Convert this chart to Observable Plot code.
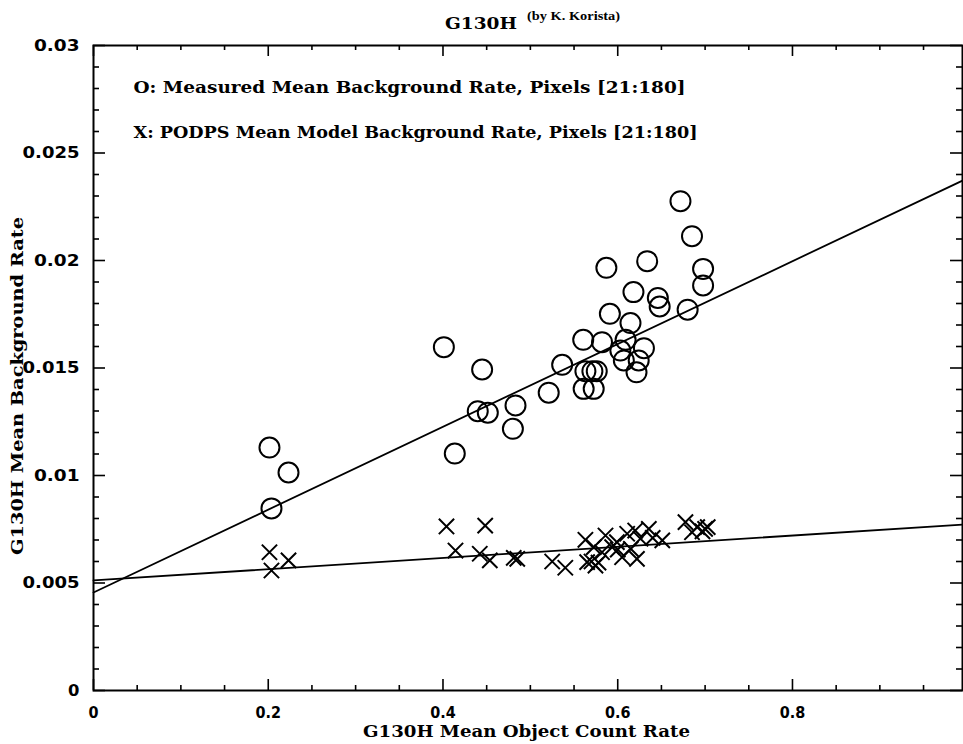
<!DOCTYPE html>
<html>
<head>
<meta charset="utf-8">
<script src="https://cdn.jsdelivr.net/npm/d3@7"></script>
<script src="https://cdn.jsdelivr.net/npm/@observablehq/plot@0.6"></script>
<style>
  html, body { margin: 0; padding: 0; background: #fff; }
  svg { display: block; }
</style>
</head>
<body>
<div id="chart"></div>
<script>
// ---- data ----
const measuredX = [0.2014, 0.2232, 0.2037, 0.401, 0.4135, 0.4398, 0.4513, 0.4448, 0.480, 0.483,
  0.521, 0.5364, 0.5605, 0.561, 0.5725, 0.563, 0.571, 0.576, 0.582, 0.587,
  0.591, 0.603, 0.607, 0.609, 0.6146, 0.618, 0.6215, 0.624, 0.630, 0.6337,
  0.6459, 0.648, 0.6718, 0.680, 0.685, 0.6977, 0.6977];
const measuredY = [0.0113, 0.01014, 0.00847, 0.01597, 0.01102, 0.01299, 0.01292, 0.01493, 0.01217, 0.01326,
  0.01385, 0.01515, 0.01631, 0.01403, 0.01403, 0.01485, 0.01485, 0.01485, 0.0162, 0.01966,
  0.01752, 0.01581, 0.01535, 0.01631, 0.01709, 0.01853, 0.0148, 0.01535, 0.01592, 0.01997,
  0.01826, 0.01786, 0.02276, 0.01771, 0.02113, 0.01961, 0.01884];

const modelX = [0.2014, 0.2232, 0.2037, 0.404, 0.4483, 0.4143, 0.4421, 0.4536, 0.481, 0.485,
  0.525, 0.540, 0.563, 0.565, 0.5745, 0.5726, 0.586, 0.582, 0.5936, 0.6108,
  0.620, 0.6356, 0.626, 0.605, 0.622, 0.615, 0.651, 0.6775, 0.691, 0.700,
  0.685, 0.599, 0.570, 0.578, 0.600, 0.640, 0.697, 0.703];
const modelY = [0.00643, 0.00605, 0.00558, 0.00763, 0.00767, 0.00651, 0.00636, 0.00605, 0.00617, 0.00612,
  0.0060, 0.00571, 0.00701, 0.00597, 0.00581, 0.00667, 0.00721, 0.00643, 0.00667, 0.00729,
  0.00744, 0.00752, 0.00706, 0.0062, 0.00612, 0.00659, 0.00698, 0.00783, 0.0076, 0.00752,
  0.00736, 0.0069, 0.0060, 0.00595, 0.00655, 0.0071, 0.0074, 0.0076];

// fitted lines (intercept, slope)
const fitMeasured = {intercept: 0.00456, slope: 0.01926};
const fitModel = {intercept: 0.00512, slope: 0.00261};

const xDomain = [0, 0.9946];
const yDomain = [0, 0.03];
const xMajor = [0, 0.2, 0.4, 0.6, 0.8];
const xMinor = [0.05, 0.1, 0.15, 0.25, 0.3, 0.35, 0.45, 0.5, 0.55, 0.65, 0.7, 0.75, 0.85, 0.9, 0.95];
const yMajor = [0, 0.005, 0.01, 0.015, 0.02, 0.025, 0.03];
const yMinor = [0.001,0.002,0.003,0.004,0.006,0.007,0.008,0.009,0.011,0.012,0.013,0.014,
  0.016,0.017,0.018,0.019,0.021,0.022,0.023,0.024,0.026,0.027,0.028,0.029];
const yTickLabels = ["0", "0.005", "0.01", "0.015", "0.02", "0.025", "0.03"];
const xTickLabels = ["0", "0.2", "0.4", "0.6", "0.8"];

const legendLines = [
  "O: Measured Mean Background Rate, Pixels [21:180]",
  "X: PODPS Mean Model Background Rate, Pixels [21:180]"
];

// ---- build tables ----
const measured = measuredX.map((x, i) => ({x, y: measuredY[i]}));
const model = modelX.map((x, i) => ({x, y: modelY[i]}));
const fitRows = [];
for (const [name, f] of [["measured", fitMeasured], ["model", fitModel]]) {
  for (const x of xDomain) fitRows.push({series: name, x, y: f.intercept + f.slope * x});
}

// layout
const W = 963, H = 744, mL = 93, mR = 1, mT = 45, mB = 54;
const fw = W - mL - mR, fh = H - mT - mB;
const serif = "'DejaVu Serif Condensed', 'DejaVu Serif', 'Liberation Serif', serif";

// inward tick marks drawn as short ticks hugging each side of the frame
const ticksBottom = (vals, len) => Plot.tickX(vals, {x: d => d, insetTop: fh - len, stroke: "#000", strokeWidth: 1.6});
const ticksTop = (vals, len) => Plot.tickX(vals, {x: d => d, insetBottom: fh - len, stroke: "#000", strokeWidth: 1.6});
const ticksLeft = (vals, len) => Plot.tickY(vals, {y: d => d, insetRight: fw - len, stroke: "#000", strokeWidth: 1.6});
const ticksRight = (vals, len) => Plot.tickY(vals, {y: d => d, insetLeft: fw - len, stroke: "#000", strokeWidth: 1.6});

const chart = Plot.plot({
  width: W,
  height: H,
  marginLeft: mL,
  marginRight: mR,
  marginTop: mT,
  marginBottom: mB,
  x: {domain: xDomain},
  y: {domain: yDomain},
  style: {background: "#fff", color: "#000"},
  marks: [
    ticksBottom(xMinor, 5), ticksBottom(xMajor, 11),
    ticksTop(xMinor, 5), ticksTop(xMajor, 11),
    ticksLeft(yMinor, 6), ticksLeft(yMajor, 12),
    ticksRight(yMinor, 6), ticksRight(yMajor, 12),
    Plot.frame({stroke: "#000", strokeWidth: 2}),
    Plot.axisX({anchor: "bottom", ticks: xMajor, tickSize: 0, tickPadding: 16,
      tickFormat: d => xTickLabels[xMajor.indexOf(d)], label: null,
      fontSize: 16, fontWeight: "bold", fontFamily: "'Liberation Sans Narrow', 'DejaVu Sans Condensed', sans-serif"}),
    Plot.axisY({anchor: "left", ticks: yMajor, tickSize: 0, tickPadding: 14,
      tickFormat: d => yTickLabels[yMajor.indexOf(d)], label: null,
      fontSize: 16, fontWeight: "bold", fontFamily: "'DejaVu Sans', sans-serif", className: "ylab"}),
    Plot.line(fitRows, {x: "x", y: "y", z: "series", stroke: "#000", strokeWidth: 1.8}),
    Plot.dot(measured, {x: "x", y: "y", r: 10, stroke: "#000", strokeWidth: 2, fill: "none"}),
    Plot.dot(model, {x: "x", y: "y", r: 7, symbol: "times", stroke: "#000", strokeWidth: 2}),
    Plot.text(legendLines, {text: d => d, frameAnchor: "top-left", textAnchor: "start",
      fontSize: 17, fontWeight: "bold", fontFamily: serif, className: "legend"})
  ]
});

const svg = d3.select(chart);
// legend lines: place each line and stretch to the reference widths
const legendWidths = [552, 564];
svg.selectAll("g.legend text").each(function(d, i) {
  d3.select(this)
    .attr("transform", `translate(133,${92 + i * 45})`)
    .attr("x", 0).attr("y", 0).attr("dy", null)
    .attr("text-anchor", "start")
    .attr("textLength", legendWidths[i]).attr("lengthAdjust", "spacingAndGlyphs");
});
// y tick labels are wide in the reference
svg.selectAll("g.ylab text").each(function() {
  const n = this.textContent.length;
  d3.select(this).attr("textLength", n * 11.4).attr("lengthAdjust", "spacingAndGlyphs");
});

// titles
function addText(str, x, y, size, len, family, transform) {
  const t = svg.append("text").text(str)
    .attr("text-anchor", "start")
    .attr("font-family", family).attr("font-weight", "bold")
    .attr("font-size", size).attr("textLength", len).attr("lengthAdjust", "spacingAndGlyphs");
  if (transform) t.attr("transform", transform); else t.attr("x", x).attr("y", y);
  return t;
}
addText("G130H", 445, 29, 17, 72, serif);
addText("(by K. Korista)", 527, 20, 12, 93, "'Liberation Serif', serif");
addText("G130H Mean Object Count Rate", 363, 737, 17, 327, serif);
addText("G130H Mean Background Rate", 0, 0, 17, 338, serif, "translate(23,555) rotate(-90)");

document.getElementById("chart").appendChild(chart);
</script>
</body>
</html>
